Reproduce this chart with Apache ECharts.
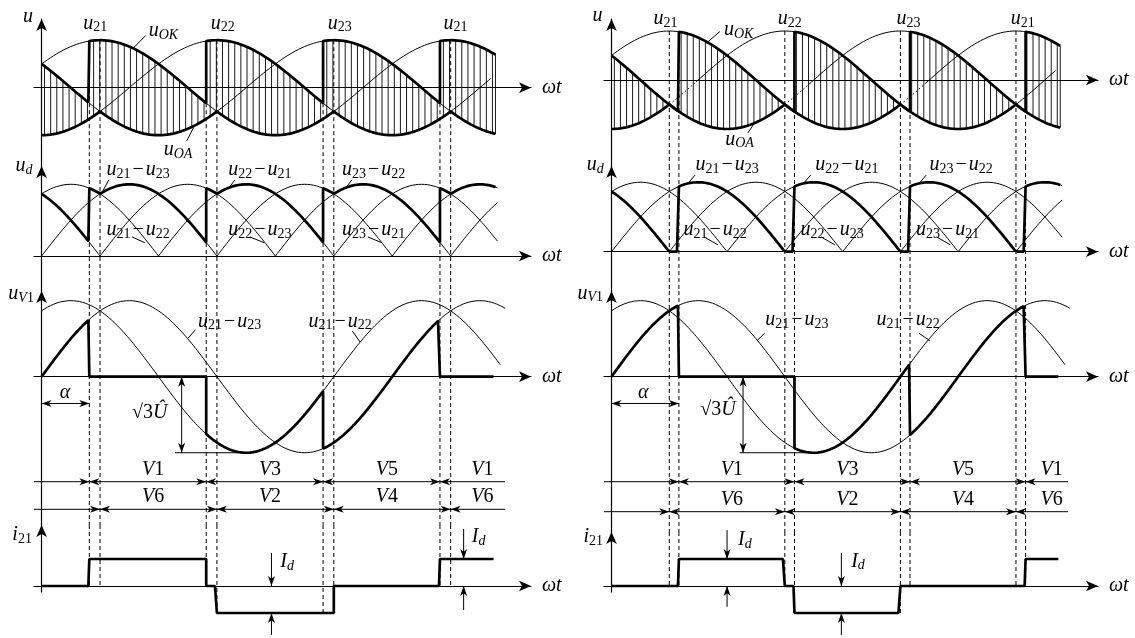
<!DOCTYPE html>
<html>
<head>
<meta charset="utf-8">
<script src="https://cdn.jsdelivr.net/npm/echarts@6/dist/echarts.min.js"></script>
<style>html,body{margin:0;background:#fff}#chart{width:1135px;height:638px}</style>
</head>
<body>
<div id="chart"></div>
<script>
// 控制角 α（度）：左图、右图
var alphaDeg = [49, 70];
// 相电压 u21 u22 u23 的峰值角（度），θ=0 为自然换相点
var phasePeakDeg = [60, 180, 300];
var phaseNames = ['21', '22', '23'];
// 二极管组自然换相点（度）
var diodeSwitchDeg = [60, 180, 300, 420];
// 晶闸管组 V1 V3 V5 / 二极管组 V2 V4 V6 所接的相
var thyristorOrder = [0, 1, 2];
var diodeOrder = [2, 0, 1];
// 文字
var peakLabelPhases = [0, 1, 2, 0];
var udTopPairs = [[0, 2], [1, 0], [2, 1]];
var udBottomPairs = [[0, 1], [1, 2], [2, 0]];
var uV1Pairs = [[0, 2], [0, 1]];
var upperRowLabels = ['V1', 'V3', 'V5', 'V1'];
var lowerRowLabels = ['V6', 'V2', 'V4', 'V6'];
var curveEndDeg = 466;
var Id = 1;

var SQ3 = Math.sqrt(3);

// 版面（像素）与标注位置（数据坐标）
var panels = [{
	alpha: alphaDeg[0], ox: 41.6, k: 0.974, x0: 34, tip: 537,
	plots: [
		{ axis: 87.7, tip: 13, ppu: 47.5 },
		{ axis: 256, tip: 160, ppu: 41.4 },
		{ axis: 376.7, tip: 285, ppu: 43.9 },
		{ axis: 586, tip: 519, ppu: 27, bottom: 592 }
	],
	rows: [481.7, 509.3], rowEnd: 475.8,
	dotted: [],
	lab: {
		u: [-14, 1.49], peaks: [55, 186, 306, 425], peakV: 1.35,
		uOK: [125, 1.19], uOKLead: [94, 0.83, 107, 1.1],
		uOA: [140, -1.31], uOALead: [156, -0.84, 149, -1.12],
		ud: [-18, 2.17], udTop: [99, 224, 341], udTopV: 2.08,
		udTopLead: [[62, 69], [192.5, 198.5], [312.5, 318.5]], udTopLeadV: 1.84,
		udBot: [99, 224, 341], udBotV: 0.63,
		udBotLead: [[93, 106], [214, 228.5], [335, 349.5]], udBotLeadV: [0.46, 0.32],
		uV1: [-21, 1.88], pairLab: [[193, 1.25], [306.5, 1.25]],
		pairLead: [[150, 0.87, 158, 1.07], [319, 1.04, 327, 0.79]],
		alphaV: -0.61, alphaLab: [24, -0.37],
		rootTh: 143.8, rootLine: [137, 210], rootLab: [111, -0.83],
		i21: [-20, 1.89],
		idMarks: [[236, 1.22, 0, -1.81, -1], [433.3, 2.11, 1, -0.89, 0]],
		idLabs: [[252, 0.89], [448.7, 1.81]],
		rowLabV: [1.42, 0.46]
	}
}, {
	alpha: alphaDeg[1], ox: 611.5, k: 0.963, x0: 604, tip: 1104,
	plots: [
		{ axis: 80, tip: 13, ppu: 49 },
		{ axis: 251.7, tip: 160, ppu: 40.1 },
		{ axis: 376.7, tip: 285, ppu: 43.9 },
		{ axis: 586, tip: 526, ppu: 27, bottom: 592 }
	],
	rows: [481.7, 511.7], rowEnd: 474,
	dotted: [[1, 60, 88], [2, 180, 205], [0, 300, 326]],
	lab: {
		u: [-14.5, 1.31], peaks: [56, 185, 308.5, 427], peakV: 1.24,
		uOK: [132, 1.02], uOKLead: [99.6, 0.77, 112.6, 0.99],
		uOA: [133, -1.22], uOALead: [149, -0.86, 141.7, -1.08],
		ud: [-17, 2.16], udTop: [120, 244.5, 363], udTopV: 2.16,
		udTopLead: [[79.4, 86.8], [199.4, 206.8], [319.4, 326.8]], udTopLeadV: 1.91,
		udBot: [107.5, 229, 349], udBotV: 0.54,
		udBotLead: [[96, 110.6], [217.5, 232], [337.5, 352]], udBotLeadV: [0.37, 0.17],
		uV1: [-22, 1.9], pairLab: [[192.6, 1.29], [308, 1.29]],
		pairLead: [[151.5, 0.83, 159, 0.99], [319.3, 0.99, 330.6, 0.82]],
		alphaV: -0.61, alphaLab: [33, -0.37],
		rootTh: 136.6, rootLine: [133, 210], rootLab: [110.6, -0.76],
		i21: [-19, 1.81],
		idMarks: [[120, 2.07, 1, -0.77, 0], [238.7, 1.22, 0, -1.81, -1]],
		idLabs: [[138.5, 1.7], [256, 0.9]],
		rowLabV: [1.39, 0.39]
	}
}];

function rad(d) { return d * Math.PI / 180; }
function mod(a, n) { return ((a % n) + n) % n; }
function phase(i, th) { return Math.cos(rad(th - phasePeakDeg[i])); }
function posPhase(th, a) { return thyristorOrder[mod(Math.floor((th - a) / 120), 3)]; }
function negPhase(th) { return diodeOrder[mod(Math.floor((th - diodeSwitchDeg[0]) / 120), 3)]; }
function uOK(th, a) { return phase(posPhase(th, a), th); }
function uOA(th) { return phase(negPhase(th), th); }
function ud(th, a) { return uOK(th, a) - uOA(th); }
function uV1(th, a) { return phase(0, th) - uOK(th, a); }
function i21(th, a) { return Id * ((posPhase(th, a) === 0 ? 1 : 0) - (negPhase(th) === 0 ? 1 : 0)); }
function lineVolt(i, j, th) { return phase(i, th) - phase(j, th); }
function lineCentre(i, j) {
	var pi = rad(phasePeakDeg[i]), pj = rad(phasePeakDeg[j]);
	var dr = Math.cos(pi) - Math.cos(pj), di = -Math.sin(pi) + Math.sin(pj);
	return -Math.atan2(di, dr) * 180 / Math.PI;
}

// 采样，开关点处取左右极限得到竖直跳变
function trace(fn, from, to, switches) {
	var sw = (switches || []).filter(function(s) { return s > from && s < to; });
	var ts = [];
	for(var t = from; t < to; t += 1) {
		if(sw.indexOf(t) < 0) ts.push(t);
	}
	ts.push(to);
	ts = ts.concat(sw).sort(function(a, b) { return a - b; });
	var pts = [];
	ts.forEach(function(t) {
		if(sw.indexOf(t) >= 0) {
			pts.push([t, fn(t - 1e-6)], [t, fn(t + 1e-6)]);
		} else {
			pts.push([t, fn(t)]);
		}
	});
	return pts;
}
function joinBreak(list) {
	var out = [];
	list.forEach(function(seg, n) {
		if(n > 0) out.push([seg[0][0], '-']);
		out = out.concat(seg);
	});
	return out;
}

var FONT = 'Liberation Serif';
var richStyles = {
	v: { fontFamily: FONT, fontStyle: 'italic', fontSize: 20, lineHeight: 22 },
	n: { fontFamily: FONT, fontSize: 20, lineHeight: 22 },
	m: { fontFamily: FONT, fontSize: 20, lineHeight: 22, padding: [0, 2, 0, 2] },
	s: { fontFamily: FONT, fontSize: 14, lineHeight: 11, verticalAlign: 'bottom' },
	si: { fontFamily: FONT, fontStyle: 'italic', fontSize: 14, lineHeight: 11, verticalAlign: 'bottom' }
};
function phaseText(i) { return '{v|u}{s|' + phaseNames[i] + '}'; }
function pairText(p) { return phaseText(p[0]) + '{m|−}' + phaseText(p[1]); }
function vText(s) { return '{v|V}{n|' + s.substring(1) + '}'; }

function lineS(ai, data, width, type, z) {
	return {
		type: 'line', xAxisIndex: ai, yAxisIndex: ai, data: data, symbol: 'none',
		silent: true, z: z || 2, connectNulls: false, clip: false,
		lineStyle: { color: '#000', width: width, type: type || 'solid' }
	};
}
function arrowHead(tip, from) {
	var dx = tip[0] - from[0], dy = tip[1] - from[1];
	var len = Math.sqrt(dx * dx + dy * dy) || 1;
	var ux = dx / len, uy = dy / len, L = 10, W = 3.5;
	var bx = tip[0] - ux * L, by = tip[1] - uy * L;
	return {
		type: 'polygon',
		shape: { points: [tip, [bx - uy * W, by + ux * W], [tip[0] - ux * L * 0.72, tip[1] - uy * L * 0.72], [bx + uy * W, by - ux * W]] },
		style: { fill: '#000' }
	};
}
// 每项：[x1, y1, x2, y2, 起点箭头, 终点箭头]
function arrowS(ai, items) {
	return {
		type: 'custom', xAxisIndex: ai, yAxisIndex: ai, silent: true, z: 4, clip: false,
		data: items,
		renderItem: function(params, api) {
			var p1 = api.coord([api.value(0), api.value(1)]);
			var p2 = api.coord([api.value(2), api.value(3)]);
			var ch = [{ type: 'line', shape: { x1: p1[0], y1: p1[1], x2: p2[0], y2: p2[1] }, style: { stroke: '#000', lineWidth: 1 } }];
			if(api.value(4)) ch.push(arrowHead(p1, p2));
			if(api.value(5)) ch.push(arrowHead(p2, p1));
			return { type: 'group', children: ch };
		}
	};
}
function textS(ai, items) {
	return {
		type: 'custom', xAxisIndex: ai, yAxisIndex: ai, silent: true, z: 6, clip: false,
		data: items.map(function(t, n) { return [t[0], t[1], n]; }),
		renderItem: function(params, api) {
			var p = api.coord([api.value(0), api.value(1)]);
			return {
				type: 'text', x: p[0], y: p[1],
				style: { text: items[api.value(2)][2], rich: richStyles, fill: '#000', align: 'center', verticalAlign: 'middle', fontFamily: FONT, fontSize: 20 }
			};
		}
	};
}
// 阴影线：[θ, 上, 下]
function hatchS(ai, items) {
	return {
		type: 'custom', xAxisIndex: ai, yAxisIndex: ai, silent: true, z: 1, clip: false,
		data: items,
		renderItem: function(params, api) {
			var a = api.coord([api.value(0), api.value(1)]);
			var b = api.coord([api.value(0), api.value(2)]);
			return { type: 'line', shape: { x1: a[0], y1: a[1], x2: b[0], y2: b[1] }, style: { stroke: '#000', lineWidth: 0.9 } };
		}
	};
}

var grids = [], xAxes = [], yAxes = [], series = [];

panels.forEach(function(P, pi) {
	var a = P.alpha, L = P.lab;
	var base = pi * 5;
	var xmin = (P.x0 - P.ox) / P.k, xmax = (P.tip - 6 - P.ox) / P.k;
	var ext = [];

	P.plots.forEach(function(pl, j) {
		var top = pl.tip + 6;
		var bottom = j < 3 ? P.plots[j + 1].tip + 6 : pl.bottom;
		var ymin = (pl.axis - bottom) / pl.ppu, ymax = (pl.axis - top) / pl.ppu;
		ext.push([ymin, ymax]);
		grids.push({ left: P.x0, top: top, width: P.tip - 6 - P.x0, height: bottom - top, outerBoundsMode: 'none' });
		xAxes.push({
			type: 'value', gridIndex: base + j, min: xmin, max: xmax,
			axisLine: { onZero: true, symbol: ['none', 'arrow'], symbolSize: [8, 12], lineStyle: { color: '#000', width: 1.2 } },
			axisTick: { show: false }, axisLabel: { show: false }, splitLine: { show: false },
			name: 'ωt', nameLocation: 'end', nameGap: 11,
			nameTextStyle: { fontFamily: FONT, fontStyle: 'italic', fontSize: 20, color: '#000' }
		});
		yAxes.push({
			type: 'value', gridIndex: base + j, min: ymin, max: ymax,
			axisLine: { onZero: true, symbol: ['none', 'arrow'], symbolSize: [8, 12], lineStyle: { color: '#000', width: 1.2 } },
			axisTick: { show: false }, axisLabel: { show: false }, splitLine: { show: false }
		});
	});
	// 导通区间行
	grids.push({ left: P.x0, top: P.rows[0], width: P.tip - 6 - P.x0, height: P.rows[1] - P.rows[0], outerBoundsMode: 'none' });
	xAxes.push({ type: 'value', gridIndex: base + 4, min: xmin, max: xmax, show: false });
	yAxes.push({ type: 'value', gridIndex: base + 4, min: 0, max: 1, show: false });

	var firing = [a, a + 120, a + 240, a + 360];
	var allSw = firing.concat(diodeSwitchDeg);
	var marks = allSw.filter(function(t) { return t > 0 && t < curveEndDeg; }).sort(function(x, y) { return x - y; });

	// 虚线
	[0, 1, 2, 3].forEach(function(j) {
		var segs = marks.map(function(t) {
			var top = j === 0 ? 1 : ext[j][1];
			var bot = j === 3 ? Math.min(0, i21(t - 1e-6, a), i21(t + 1e-6, a)) : ext[j][0];
			return [[t, top], [t, bot]];
		});
		series.push(lineS(base + j, joinBreak(segs), 1, [4, 3], 2));
	});

	// ---- u ----
	var g = base;
	var hatch = [];
	for(var h = 3; h < curveEndDeg; h += 6.3) hatch.push([h, uOK(h, a), uOA(h)]);
	hatch.push([curveEndDeg, uOK(curveEndDeg, a), uOA(curveEndDeg)]);
	series.push(hatchS(g, hatch));
	var solid = [], dotted = [];
	[0, 1, 2].forEach(function(i) {
		var f = function(t) { return phase(i, t); };
		var start = 0;
		P.dotted.filter(function(d) { return d[0] === i; }).forEach(function(d) {
			solid.push(trace(f, start, d[1]));
			dotted.push(trace(f, d[1], d[2]));
			start = d[2];
		});
		solid.push(trace(f, start, i === 1 ? curveEndDeg - 5 : curveEndDeg));
	});
	series.push(lineS(g, joinBreak(solid), 1));
	if(dotted.length) series.push(lineS(g, joinBreak(dotted), 1, [1.5, 2.5]));
	series.push(lineS(g, trace(function(t) { return uOK(t, a); }, 0, curveEndDeg, firing), 2.7, 'solid', 3));
	series.push(lineS(g, trace(uOA, 0, curveEndDeg, diodeSwitchDeg), 2.7, 'solid', 3));
	var t1 = [[L.u[0], L.u[1], '{v|u}'], [L.uOK[0], L.uOK[1], '{v|u}{si|OK}'], [L.uOA[0], L.uOA[1], '{v|u}{si|OA}']];
	L.peaks.forEach(function(t, m) { t1.push([t, L.peakV, phaseText(peakLabelPhases[m])]); });
	series.push(textS(g, t1));
	series.push(arrowS(g, [L.uOKLead.concat([0, 0]), L.uOALead.concat([0, 0])]));

	// ---- u_d ----
	g = base + 1;
	var arcs = [];
	for(var i = 0; i < 3; i++) {
		for(var j = 0; j < 3; j++) {
			if(i === j) continue;
			var c = lineCentre(i, j);
			for(var n = -2; n <= 2; n++) {
				var lo = Math.max(0, c - 90 + 360 * n), hi = Math.min(curveEndDeg + 2, c + 90 + 360 * n);
				if(hi > lo) {
					arcs.push(trace((function(ii, jj) {
						return function(t) { return Math.max(0, lineVolt(ii, jj, t)); };
					})(i, j), lo, hi));
				}
			}
		}
	}
	series.push(lineS(g, joinBreak(arcs), 1));
	series.push(lineS(g, trace(function(t) { return ud(t, a); }, 0, curveEndDeg, allSw), 2.7, 'solid', 3));
	var t2 = [[L.ud[0], L.ud[1], '{v|u}{si|d}']];
	udTopPairs.forEach(function(p, m) { t2.push([L.udTop[m], L.udTopV, pairText(p)]); });
	udBottomPairs.forEach(function(p, m) { t2.push([L.udBot[m], L.udBotV, pairText(p)]); });
	series.push(textS(g, t2));
	var lead2 = [];
	L.udTopLead.forEach(function(q) { lead2.push([q[0], ud(q[0], a), q[1], L.udTopLeadV, 0, 0]); });
	L.udBotLead.forEach(function(q) { lead2.push([q[0], L.udBotLeadV[0], q[1], L.udBotLeadV[1], 0, 0]); });
	series.push(arrowS(g, lead2));

	// ---- u_V1 ----
	g = base + 2;
	var thin3 = uV1Pairs.map(function(p, m) {
		return trace(function(t) { return lineVolt(p[0], p[1], t); }, 0, m === 0 ? 476 : 471);
	});
	series.push(lineS(g, joinBreak(thin3), 1));
	series.push(lineS(g, trace(function(t) { return uV1(t, a); }, 0, curveEndDeg - 2, firing), 2.7, 'solid', 3));
	var t3 = [[L.uV1[0], L.uV1[1], '{v|u}{si|V}{s|1}'], [L.alphaLab[0], L.alphaLab[1], '{v|α}'], [L.rootLab[0], L.rootLab[1], '{n|√3}{v|Û}']];
	uV1Pairs.forEach(function(p, m) { t3.push([L.pairLab[m][0], L.pairLab[m][1], pairText(p)]); });
	series.push(textS(g, t3));
	series.push(arrowS(g, [
		[0, L.alphaV, a, L.alphaV, 1, 1],
		[L.rootTh, 0, L.rootTh, -SQ3, 1, 1],
		[L.rootLine[0], -SQ3, L.rootLine[1], -SQ3, 0, 0],
		L.pairLead[0].concat([0, 0]),
		L.pairLead[1].concat([0, 0])
	]));

	// ---- 导通区间 ----
	g = base + 4;
	var rowItems = [];
	var rowBounds = [firing, diodeSwitchDeg];
	var rowPts = [];
	rowBounds.forEach(function(B, r) {
		var v = 1 - r;
		var pts = [xmin].concat(B).concat([P.rowEnd]);
		for(var s = 0; s < pts.length - 1; s++) {
			rowItems.push([pts[s], v, pts[s + 1], v, s > 0 ? 1 : 0, s < pts.length - 2 ? 1 : 0]);
		}
		rowPts.push(B.concat([P.rowEnd + 15]));
	});
	// 两行标签对齐：取上下两行区间中点的平均
	var rowTexts = [];
	upperRowLabels.forEach(function(nm, m) {
		var cx = ((rowPts[0][m] + rowPts[0][m + 1]) / 2 + (rowPts[1][m] + rowPts[1][m + 1]) / 2) / 2;
		rowTexts.push([cx, L.rowLabV[0], vText(nm)]);
		rowTexts.push([cx, L.rowLabV[1], vText(lowerRowLabels[m])]);
	});
	series.push(arrowS(g, rowItems));
	series.push(textS(g, rowTexts));

	// ---- i21 ----
	g = base + 3;
	series.push(lineS(g, trace(function(t) { return i21(t, a); }, 0, curveEndDeg - 2, allSw), 2.7, 'solid', 3));
	var idArrows = [];
	L.idMarks.forEach(function(q) {
		idArrows.push([q[0], q[1], q[0], q[2], 0, 1]);
		idArrows.push([q[0], q[3], q[0], q[4], 0, 1]);
	});
	series.push(arrowS(g, idArrows));
	var t4 = [[L.i21[0], L.i21[1], '{v|i}{s|21}']];
	L.idLabs.forEach(function(q) { t4.push([q[0], q[1], '{v|I}{si|d}']); });
	series.push(textS(g, t4));
});

var myChart = echarts.init(document.getElementById('chart'), null, { renderer: 'canvas' });
myChart.setOption({
	backgroundColor: '#fff',
	animation: false,
	grid: grids,
	xAxis: xAxes,
	yAxis: yAxes,
	series: series
});
</script>
</body>
</html>
